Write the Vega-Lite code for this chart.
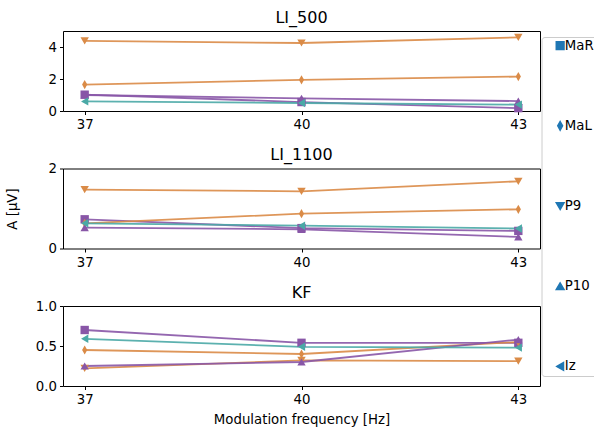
{
  "$schema": "https://vega.github.io/schema/vega-lite/v6.json",
  "padding": {"left": 5, "top": 9, "right": 0, "bottom": 4},
  "spacing": 14.5,
  "config": {
    "font": "DejaVu Sans",
    "view": {"stroke": "#000", "strokeWidth": 1},
    "axis": {"grid": false, "domain": false, "tickColor": "#000", "tickSize": 3.5, "labelFontSize": 13.3, "labelColor": "#000", "titleFontSize": 13.3, "titleFontWeight": "normal", "titleColor": "#000", "labelPadding": 3, "labelOverlap": false},
    "title": {"fontSize": 16, "fontWeight": "normal", "color": "#000", "offset": 5, "frame": "group"},
    "legend": {"labelFontSize": 13.3, "labelColor": "#000"}
  },
  "data": {
    "values": [
      {"panel": "LI_500", "freq": 37, "series": "MaR", "value": 1.02},
      {"panel": "LI_500", "freq": 40, "series": "MaR", "value": 0.56},
      {"panel": "LI_500", "freq": 43, "series": "MaR", "value": 0.18},
      {"panel": "LI_500", "freq": 37, "series": "MaL", "value": 1.65},
      {"panel": "LI_500", "freq": 40, "series": "MaL", "value": 1.95},
      {"panel": "LI_500", "freq": 43, "series": "MaL", "value": 2.15},
      {"panel": "LI_500", "freq": 37, "series": "P9", "value": 4.38},
      {"panel": "LI_500", "freq": 40, "series": "P9", "value": 4.25},
      {"panel": "LI_500", "freq": 43, "series": "P9", "value": 4.6},
      {"panel": "LI_500", "freq": 37, "series": "P10", "value": 1.0},
      {"panel": "LI_500", "freq": 40, "series": "P10", "value": 0.79},
      {"panel": "LI_500", "freq": 43, "series": "P10", "value": 0.62},
      {"panel": "LI_500", "freq": 37, "series": "Iz", "value": 0.6},
      {"panel": "LI_500", "freq": 40, "series": "Iz", "value": 0.5},
      {"panel": "LI_500", "freq": 43, "series": "Iz", "value": 0.4},
      {"panel": "LI_1100", "freq": 37, "series": "MaR", "value": 0.73},
      {"panel": "LI_1100", "freq": 40, "series": "MaR", "value": 0.51},
      {"panel": "LI_1100", "freq": 43, "series": "MaR", "value": 0.44},
      {"panel": "LI_1100", "freq": 37, "series": "MaL", "value": 0.63},
      {"panel": "LI_1100", "freq": 40, "series": "MaL", "value": 0.87},
      {"panel": "LI_1100", "freq": 43, "series": "MaL", "value": 0.98},
      {"panel": "LI_1100", "freq": 37, "series": "P9", "value": 1.47},
      {"panel": "LI_1100", "freq": 40, "series": "P9", "value": 1.43},
      {"panel": "LI_1100", "freq": 43, "series": "P9", "value": 1.68},
      {"panel": "LI_1100", "freq": 37, "series": "P10", "value": 0.52},
      {"panel": "LI_1100", "freq": 40, "series": "P10", "value": 0.48},
      {"panel": "LI_1100", "freq": 43, "series": "P10", "value": 0.29},
      {"panel": "LI_1100", "freq": 37, "series": "Iz", "value": 0.63},
      {"panel": "LI_1100", "freq": 40, "series": "Iz", "value": 0.57},
      {"panel": "LI_1100", "freq": 43, "series": "Iz", "value": 0.5},
      {"panel": "KF", "freq": 37, "series": "MaR", "value": 0.7},
      {"panel": "KF", "freq": 40, "series": "MaR", "value": 0.54},
      {"panel": "KF", "freq": 43, "series": "MaR", "value": 0.54},
      {"panel": "KF", "freq": 37, "series": "MaL", "value": 0.45},
      {"panel": "KF", "freq": 40, "series": "MaL", "value": 0.4},
      {"panel": "KF", "freq": 43, "series": "MaL", "value": 0.55},
      {"panel": "KF", "freq": 37, "series": "P9", "value": 0.22},
      {"panel": "KF", "freq": 40, "series": "P9", "value": 0.32},
      {"panel": "KF", "freq": 43, "series": "P9", "value": 0.31},
      {"panel": "KF", "freq": 37, "series": "P10", "value": 0.25},
      {"panel": "KF", "freq": 40, "series": "P10", "value": 0.3},
      {"panel": "KF", "freq": 43, "series": "P10", "value": 0.58},
      {"panel": "KF", "freq": 37, "series": "Iz", "value": 0.59},
      {"panel": "KF", "freq": 40, "series": "Iz", "value": 0.49},
      {"panel": "KF", "freq": 43, "series": "Iz", "value": 0.48}
    ]
  },
  "vconcat": [
    {
      "title": "LI_500",
      "width": 477, "height": 80,
      "transform": [{"filter": "datum.panel === 'LI_500'"}],
      "layer": [
        {
          "mark": {"type": "line", "strokeWidth": 1.8, "opacity": 0.9},
          "encoding": {
            "x": {"field": "freq", "type": "quantitative", "scale": {"domain": [36.7, 43.3], "nice": false}, "axis": {"values": [37, 40, 43], "format": "d", "title": null}},
            "y": {"field": "value", "type": "quantitative", "scale": {"domain": [0, 5], "nice": false}, "axis": {"values": [0, 2, 4], "tickCount": 10, "format": "d", "title": null}},
            "color": {"field": "series", "type": "nominal", "scale": {"domain": ["MaR", "P10", "MaL", "P9", "Iz"], "range": ["#8856a7", "#8856a7", "#da8b47", "#da8b47", "#4aa9a6"]}, "legend": null},
            "detail": {"field": "series"}
          }
        },
        {
          "mark": {"type": "point", "filled": true, "size": 70, "opacity": 1},
          "encoding": {
            "x": {"field": "freq", "type": "quantitative"},
            "y": {"field": "value", "type": "quantitative"},
            "color": {"field": "series", "type": "nominal", "legend": null},
            "shape": {"field": "series", "type": "nominal", "scale": {"domain": ["MaR", "MaL", "P9", "P10", "Iz"], "range": ["square", "M0,-1.1L0.62,0L0,1.1L-0.62,0Z", "triangle-down", "triangle-up", "triangle-left"]},
              "legend": {"title": null, "orient": "none", "legendX": 478.5, "legendY": 6, "padding": 2, "rowPadding": 65.2, "symbolSize": 60, "symbolOffset": 10, "labelOffset": -2, "strokeColor": "#cccccc", "cornerRadius": 3, "fillColor": "#ffffff", "symbolFillColor": "#1f77b4", "symbolStrokeColor": "#1f77b4",
                "encode": {"symbols": {"update": {"fill": {"value": "#1f77b4"}, "stroke": {"value": "#1f77b4"}, "opacity": {"value": 1}}}}}}
          }
        }
      ]
    },
    {
      "title": {"text": "LI_1100", "offset": -1.5},
      "width": 477, "height": 80,
      "transform": [{"filter": "datum.panel === 'LI_1100'"}],
      "layer": [
        {
          "mark": {"type": "line", "strokeWidth": 1.8, "opacity": 0.9},
          "encoding": {
            "x": {"field": "freq", "type": "quantitative", "scale": {"domain": [36.7, 43.3], "nice": false}, "axis": {"values": [37, 40, 43], "format": "d", "title": null}},
            "y": {"field": "value", "type": "quantitative", "scale": {"domain": [0, 2], "nice": false}, "axis": {"values": [0, 1, 2], "tickCount": 10, "format": "d", "title": "A [µV]", "titleX": -43.5}},
            "color": {"field": "series", "type": "nominal", "legend": null},
            "detail": {"field": "series"}
          }
        },
        {
          "mark": {"type": "point", "filled": true, "size": 70, "opacity": 1},
          "encoding": {
            "x": {"field": "freq", "type": "quantitative"},
            "y": {"field": "value", "type": "quantitative"},
            "color": {"field": "series", "type": "nominal", "legend": null},
            "shape": {"field": "series", "type": "nominal"}
          }
        }
      ]
    },
    {
      "title": {"text": "KF", "offset": -1.5},
      "width": 477, "height": 80,
      "transform": [{"filter": "datum.panel === 'KF'"}],
      "layer": [
        {
          "mark": {"type": "line", "strokeWidth": 1.8, "opacity": 0.9},
          "encoding": {
            "x": {"field": "freq", "type": "quantitative", "scale": {"domain": [36.7, 43.3], "nice": false}, "axis": {"values": [37, 40, 43], "format": "d", "title": "Modulation frequency [Hz]", "titlePadding": 7}},
            "y": {"field": "value", "type": "quantitative", "scale": {"domain": [0, 1], "nice": false}, "axis": {"values": [0, 0.5, 1], "tickCount": 10, "format": ".1f", "title": null}},
            "color": {"field": "series", "type": "nominal", "legend": null},
            "detail": {"field": "series"}
          }
        },
        {
          "mark": {"type": "point", "filled": true, "size": 70, "opacity": 1},
          "encoding": {
            "x": {"field": "freq", "type": "quantitative"},
            "y": {"field": "value", "type": "quantitative"},
            "color": {"field": "series", "type": "nominal", "legend": null},
            "shape": {"field": "series", "type": "nominal"}
          }
        }
      ]
    }
  ]
}
